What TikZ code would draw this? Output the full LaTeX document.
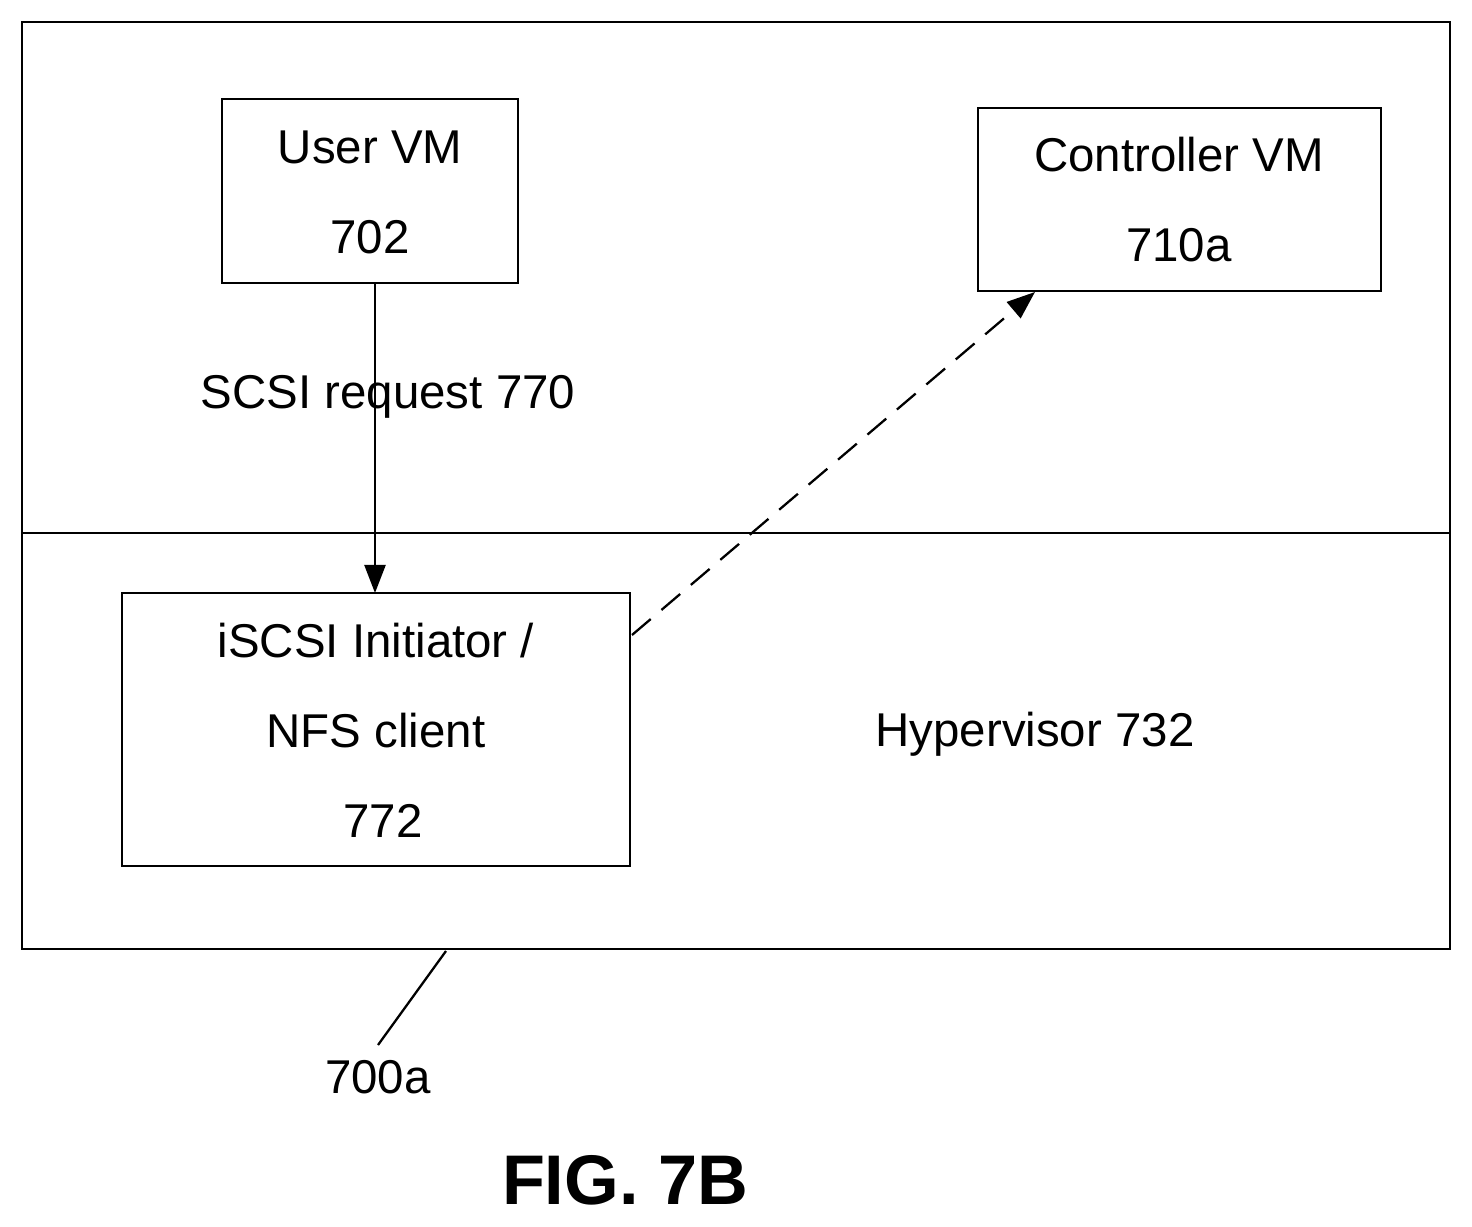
\documentclass[tikz,border=0pt]{standalone}
\usepackage{fontspec}
\setmainfont{Liberation Sans}
\usetikzlibrary{arrows.meta,positioning}
\begin{document}
\begin{tikzpicture}[x=0.02cm,y=-0.02cm,line width=1.3pt,
  every node/.style={font=\fontsize{27}{32}\selectfont},
  box/.style={draw},
  lbl/.style={inner sep=0pt}]
\useasboundingbox (0,0) rectangle (1472,1227);
% outer frame and hypervisor divider
\draw (22,22) rectangle (1450,949);
\draw (22,533) -- (1450,533);
\draw[box] (222,99) rectangle (518,283);
\coordinate (uvm) at (370,283);
\node[lbl] (uvmt) at (370,147) {User VM};
\node[lbl] (uvmn) at (370,237) {702};
\draw[box] (978,108) rectangle (1381,291);
\coordinate (cvm) at (1035,292);
\node[lbl] (cvmt) at (1179,155) {Controller VM};
\node[lbl] (cvmn) at (1179,245) {710a};
\draw[box] (122,593) rectangle (630,866);
\coordinate (ini) at (375,593);
\coordinate (inir) at (632,635);
\node[lbl] (init) at (376,641) {iSCSI Initiator /};
\node[lbl] (inic) at (376,731) {NFS client};
\node[lbl] (inin) at (383,821) {772};
\node[lbl] (hyp) at (1035,734) {Hypervisor 732};
\draw[-{Triangle[length=16pt,width=12pt]}] (375,283) -- (ini);
\node[lbl] (req) at (388,397) {SCSI request 770};
\draw[dashed,dash pattern=on 14pt off 8pt,-{Triangle[length=16pt,width=12pt]}] (inir) -- (cvm);
% reference numeral
\coordinate (lead) at (446,951);
\node[lbl] (hostn) at (378,1077) {700a};
\draw (lead) -- (378,1045);
\node[lbl,font=\fontsize{40}{46}\selectfont\bfseries] (fig) at (625,1180) {FIG. 7B};
\end{tikzpicture}
\end{document}
